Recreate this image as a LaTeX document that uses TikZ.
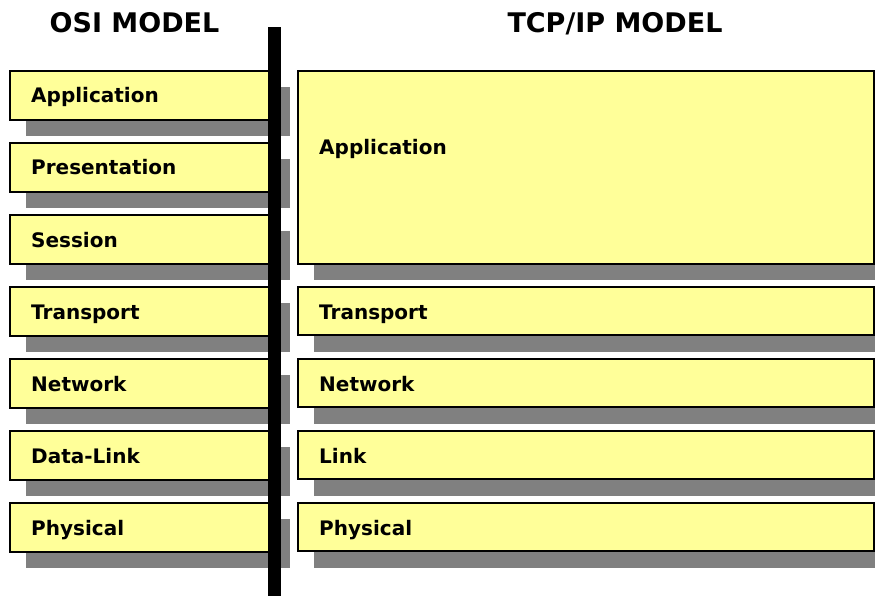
\documentclass[tikz,border=0pt]{standalone}
\usepackage{fontspec}
\setmainfont{DejaVu Sans}
\begin{document}
\begin{tikzpicture}[x=1pt,y=-1pt,
  layer/.style={draw=black,line width=1.2pt,fill=layerfill},
  shade/.style={fill=shadegray,draw=none},
  lbl/.style={anchor=base west,inner sep=0pt,font=\fontsize{20}{24}\selectfont\bfseries},
  heading/.style={anchor=base,inner sep=0pt,font=\fontsize{27}{32}\selectfont\bfseries}]
\definecolor{layerfill}{HTML}{FFFF99}
\definecolor{shadegray}{HTML}{808080}
\useasboundingbox (0,0) rectangle (875,596);

% headings
\node[heading] (osi) at (134.5,33) {OSI MODEL};
\node[heading] (tcp) at (615,33) {TCP/IP MODEL};

% shadows of the OSI layers
\foreach \t in {71,143,215,287,359,431,503}
  \fill[shade] (26,\t+16) rectangle (290,\t+65);
% shadows of the TCP/IP layers
\fill[shade] (314,87) rectangle (875,280);
\foreach \t in {287,359,431,503}
  \fill[shade] (314,\t+16) rectangle (875,\t+65);

% OSI layers
\foreach \t/\name/\txt in {71/oapp/Application,143/opres/Presentation,215/osess/Session,
    287/otrans/Transport,359/onet/Network,431/olink/Data-Link,503/ophys/Physical}{
  \draw[layer] (10,\t) rectangle (274,\t+49);
  \node[lbl] (\name) at (31,\t+32) {\txt};
}

% TCP/IP layers
\draw[layer] (298,71) rectangle (874,264);
\node[lbl] (tapp) at (319,155) {Application};
\foreach \t/\name/\txt in {287/ttrans/Transport,359/tnet/Network,431/tlink/Link,503/tphys/Physical}{
  \draw[layer] (298,\t) rectangle (874,\t+48);
  \node[lbl] (\name) at (319,\t+32) {\txt};
}

% dividing bar
\fill[black] (268,27) rectangle (281,596);
\end{tikzpicture}
\end{document}
